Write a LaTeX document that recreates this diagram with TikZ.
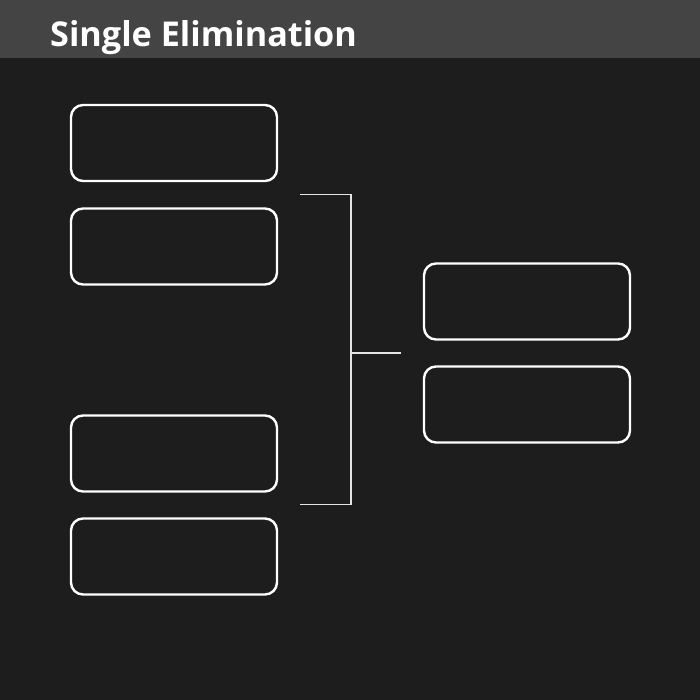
\documentclass[tikz,border=0pt]{standalone}
\usepackage{fontspec}
\setmainfont{Open Sans}
\definecolor{bg}{HTML}{1D1D1D}
\definecolor{hdr}{HTML}{444444}
\begin{document}
\begin{tikzpicture}[x=1pt,y=-1pt,
  slot/.style={draw=white,line width=2.4pt,rounded corners=12pt,minimum width=206pt,minimum height=76pt,inner sep=0pt,outer sep=0pt,anchor=north west},
  conn/.style={draw=white!90!black,line width=1.4pt}]
\fill[bg] (0,0) rectangle (700,700);
\fill[hdr] (0,0) rectangle (700,58);
\useasboundingbox (0,0) rectangle (700,700);
\node[anchor=base west,inner sep=0pt,text=white,font=\fontsize{34.2}{36}\selectfont\bfseries] (title) at (50,47) {Single Elimination};
\node[slot] (s1) at (71,105) {};
\node[slot] (s2) at (71,208.5) {};
\node[slot] (s3) at (71,415.5) {};
\node[slot] (s4) at (71,518.5) {};
\node[slot] (f1) at (424,263.5) {};
\node[slot] (f2) at (424,366.5) {};
\coordinate (t1) at (300,194.5);
\coordinate (t2) at (351,194.5);
\coordinate (b1) at (300,504.5);
\coordinate (b2) at (351,504.5);
\coordinate (m1) at (351,353);
\coordinate (m2) at (401,353);
\draw[conn] (t1) -- (t2) -- (b2) -- (b1);
\draw[conn] (m1) -- (m2);
\end{tikzpicture}
\end{document}
